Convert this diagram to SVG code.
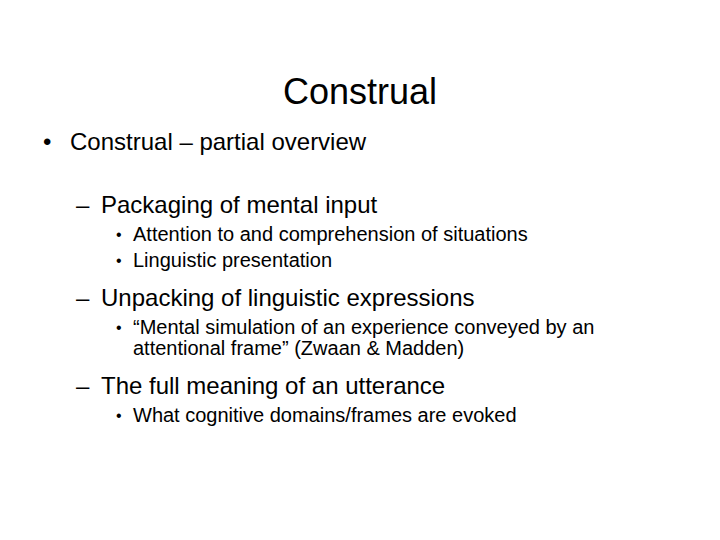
<svg xmlns="http://www.w3.org/2000/svg" width="720" height="540" viewBox="0 0 720 540">
<style>
text{font-family:"Liberation Sans",Arial,sans-serif;fill:#000}
.t{font-size:36px}
.l1{font-size:24px}
.l2{font-size:24px}
.l3{font-size:20px}
.b3{font-size:16px}
</style>
<rect width="720" height="540" fill="#fff"/>
<g id="title"><text class="t" x="360" y="104" text-anchor="middle">Construal</text></g>
<g id="item1">
<text class="l1" x="43" y="150">•</text>
<text class="l1" x="70" y="150">Construal – partial overview</text>
</g>
<g id="item2">
<text class="l2" x="76" y="213">–</text>
<text class="l2" x="101" y="213">Packaging of mental input</text>
<text class="b3" x="116" y="240">•</text>
<text class="l3" x="133" y="241">Attention to and comprehension of situations</text>
<text class="b3" x="116" y="266">•</text>
<text class="l3" x="133" y="267">Linguistic presentation</text>
</g>
<g id="item3">
<text class="l2" x="76" y="306">–</text>
<text class="l2" x="101" y="306">Unpacking of linguistic expressions</text>
<text class="b3" x="116" y="333">•</text>
<text class="l3" x="133" y="334">“Mental simulation of an experience conveyed by an</text>
<text class="l3" x="133" y="355">attentional frame” (Zwaan &amp; Madden)</text>
</g>
<g id="item4">
<text class="l2" x="76" y="394">–</text>
<text class="l2" x="101" y="394">The full meaning of an utterance</text>
<text class="b3" x="116" y="421">•</text>
<text class="l3" x="133" y="422">What cognitive domains/frames are evoked</text>
</g>
</svg>
